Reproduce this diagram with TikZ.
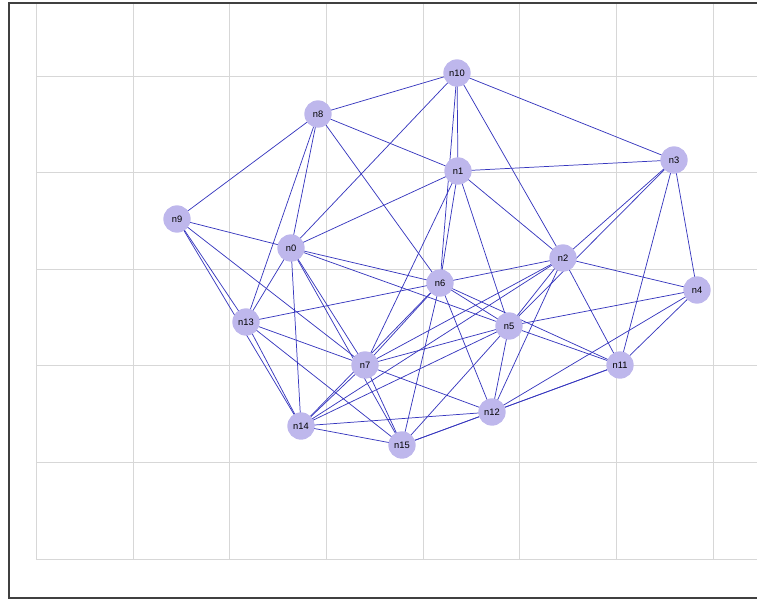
\documentclass[tikz,border=0pt]{standalone}
\usepackage{fontspec}
\setmainfont{Liberation Sans}
\usetikzlibrary{backgrounds}
\definecolor{nodefill}{RGB}{190,183,236}
\definecolor{edgeblue}{RGB}{55,55,190}
\definecolor{gridgray}{RGB}{215,215,215}
\begin{document}
\begin{tikzpicture}[x=0.75pt,y=-0.75pt,
  vertex/.style={circle,fill=nodefill,minimum size=20.5pt,inner sep=0pt,
    font=\fontsize{7}{8}\selectfont},
  edge/.style={draw=edgeblue,line width=0.55pt},
  gridline/.style={draw=gridgray,line width=0.6pt}]
  \useasboundingbox (0,0) rectangle (757,601);
  % Nodes
  \node[vertex] (n10) at (457,73) {n10};
  \node[vertex] (n8) at (318,114) {n8};
  \node[vertex] (n1) at (458,171) {n1};
  \node[vertex] (n3) at (674,160) {n3};
  \node[vertex] (n9) at (177,219) {n9};
  \node[vertex] (n0) at (291,248) {n0};
  \node[vertex] (n2) at (563,258) {n2};
  \node[vertex] (n6) at (440,283) {n6};
  \node[vertex] (n4) at (697,290) {n4};
  \node[vertex] (n13) at (246,322) {n13};
  \node[vertex] (n5) at (509,326) {n5};
  \node[vertex] (n7) at (365,365) {n7};
  \node[vertex] (n11) at (620,365) {n11};
  \node[vertex] (n12) at (492,412) {n12};
  \node[vertex] (n14) at (301,426) {n14};
  \node[vertex] (n15) at (402,445) {n15};
  \begin{scope}[on background layer]
    % Grid
    \foreach \x in {36,133,229,326,423,519,616,713}
      \draw[gridline] (\x,3) -- (\x,559);
    \foreach \y in {76,172,269,365,462,559}
      \draw[gridline] (36,\y) -- (757,\y);
    % Frame
    \draw[line width=0.8pt,black!75] (757,3) -- (9,3) -- (9,598) -- (757,598);
    % Edges
    \foreach \a/\b in {n10/n8,n10/n0,n10/n1,n10/n6,n10/n2,n10/n3,
        n8/n9,n8/n1,n8/n6,n8/n0,n8/n13,
        n9/n0,n9/n13,n9/n14,n9/n7,
        n1/n0,n1/n3,n1/n2,n1/n5,n1/n6,n1/n7,
        n0/n6,n0/n5,n0/n13,n0/n14,n0/n7,n0/n15,
        n3/n2,n3/n5,n3/n4,n3/n11,
        n2/n6,n2/n4,n2/n11,n2/n5,n2/n12,n2/n7,n2/n14,
        n4/n5,n4/n11,n4/n12,
        n6/n13,n6/n5,n6/n11,n6/n7,n6/n14,n6/n15,n6/n12,
        n13/n7,n13/n14,n13/n15,
        n5/n7,n5/n14,n5/n15,n5/n12,n5/n11,
        n7/n12,n7/n15,n7/n14,
        n11/n12,n11/n15,n12/n14,n12/n15,n14/n15}
      \draw[edge] (\a.center) -- (\b.center);
  \end{scope}
\end{tikzpicture}
\end{document}
